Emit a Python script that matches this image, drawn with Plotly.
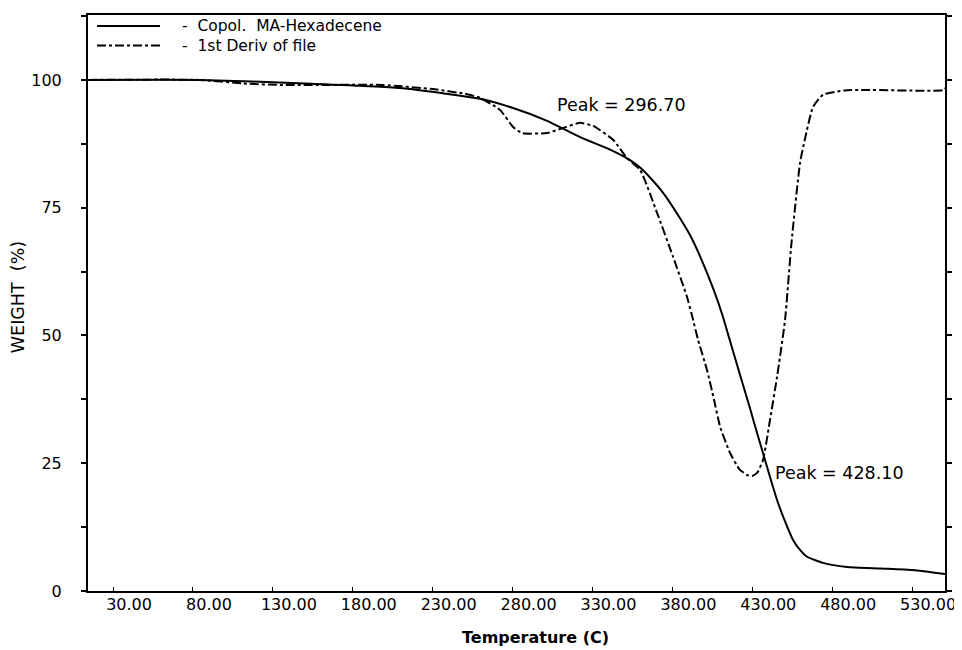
import plotly.graph_objects as go

# Weight (%) curve: solid line
weight_temp = [4.3, 74.4, 140.0, 199.6, 241.5, 249.6, 270.3, 291.6, 312.2, 330.0, 343.5,
               350.0, 356.0, 364.2, 372.0, 381.1, 388.0, 395.5, 401.1, 406.1, 412.4, 418.7,
               423.0, 426.7, 431.1, 435.5, 440.0, 445.5, 450.0, 454.3, 464.3, 479.3,
               500.0, 520.6, 540.6]
weight_pct = [100.0, 100.0, 99.3, 98.4, 96.7, 96.3, 94.5, 92.0, 88.8, 86.5, 84.3,
              82.8, 80.9, 77.9, 74.3, 69.6, 65.0, 59.2, 54.2, 48.9, 42.2, 35.6,
              30.9, 27.0, 22.3, 17.8, 14.0, 10.0, 8.0, 6.7, 5.5, 4.7,
              4.4, 4.1, 3.3]

# 1st derivative curve (scaled): dash-dot line
deriv_temp = [4.3, 74.4, 101.3, 126.4, 189.0, 220.2, 240.0, 249.6, 262.2, 270.3, 276.0,
              291.6, 301.6, 312.2, 320.4, 332.9, 341.6, 349.8, 360.4, 370.4, 379.2,
              383.0, 386.0, 391.7, 396.0, 399.9, 406.1, 412.0, 416.7, 419.9, 423.0,
              426.7, 431.1, 435.5, 440.5, 444.5, 449.9, 453.0, 458.0, 464.3, 479.3,
              539.4, 540.6]
deriv_val = [100.0, 100.0, 99.3, 99.0, 99.0, 98.2, 97.3, 96.5, 94.1, 90.8, 89.6,
             89.6, 90.6, 91.6, 91.0, 88.3, 84.7, 82.4, 74.0, 65.4, 57.5,
             53.0, 49.2, 43.2, 37.5, 32.1, 27.0, 23.8, 22.7, 22.5, 23.1,
             25.6, 33.5, 41.9, 53.0, 68.0, 83.8, 88.5, 94.7, 97.1, 98.0,
             98.0, 98.4]

x_ticks = [30, 80, 130, 180, 230, 280, 330, 380, 430, 480, 530]
x_tick_labels = ["30.00", "80.00", "130.00", "180.00", "230.00", "280.00",
                 "330.00", "380.00", "430.00", "480.00", "530.00"]
y_ticks = [0, 25, 50, 75, 100]

series_names = ["-  Copol.  MA-Hexadecene", "-  1st Deriv of file"]
peak_labels = [(296.7, 95.1, "Peak = 296.70"), (433.0, 23.1, "Peak = 428.10")]

FONT = "DejaVu Sans, Verdana, sans-serif"
DASHDOT = "9px,3px,3px,3px"

fig = go.Figure()
fig.add_trace(go.Scatter(x=weight_temp, y=weight_pct, mode="lines",
                         name=series_names[0], showlegend=False,
                         line=dict(color="black", width=2, shape="spline", smoothing=0.5)))
fig.add_trace(go.Scatter(x=deriv_temp, y=deriv_val, mode="lines",
                         name=series_names[1], showlegend=False,
                         line=dict(color="black", width=2, dash=DASHDOT,
                                   shape="spline", smoothing=0.5)))

for x, y, t in peak_labels:
    fig.add_annotation(x=x, y=y, text=t, showarrow=False, xanchor="left", yanchor="middle",
                       font=dict(family=FONT, size=17.5, color="black"))

# Manual legend (top-left, inside plot frame)
legend_rows = [(0.981, "solid"), (0.947, DASHDOT)]
for ly, dash in legend_rows:
    fig.add_shape(type="line", xref="paper", yref="paper", x0=0.0105, x1=0.084, y0=ly, y1=ly,
                  line=dict(color="black", width=2, dash=dash))
fig.add_annotation(xref="paper", yref="paper", x=0.1073, y=0.964,
                   text="<br>".join(series_names), showarrow=False, align="left",
                   xanchor="left", yanchor="middle",
                   font=dict(family=FONT, size=15.5, color="black"))

# Axis titles
fig.add_annotation(xref="paper", yref="paper", x=0.5216, y=-0.0799, text="<b>Temperature (C)</b>",
                   showarrow=False, xanchor="center", yanchor="middle",
                   font=dict(family=FONT, size=16, color="black"))
fig.add_annotation(xref="paper", yref="paper", x=-0.0817, y=0.51, text="WEIGHT  (%)",
                   showarrow=False, xanchor="center", yanchor="middle", textangle=-90,
                   font=dict(family=FONT, size=17.5, color="black"))

# The page body has an 8px default margin, so the figure is sized to fit the window.
fig.update_layout(
    width=954, height=642,
    margin=dict(l=80, r=17, t=7, b=59),
    paper_bgcolor="white", plot_bgcolor="white",
    font=dict(family=FONT, size=16, color="black"),
    showlegend=False,
)
fig.update_xaxes(
    range=[4.3, 540.6], tickvals=x_ticks, ticktext=x_tick_labels, automargin=False,
    ticks="", showgrid=False, zeroline=False,
    showline=True, linecolor="black", linewidth=2, mirror=True,
    minor=dict(tick0=20, dtick=50, ticks="inside", ticklen=4, tickcolor="black", showgrid=False),
    ticklabelstandoff=-2, tickfont=dict(size=16),
)
fig.update_yaxes(
    range=[0, 112.7], tickvals=y_ticks, automargin=False,
    ticks="outside", ticklen=5, tickcolor="black", tickwidth=1.5,
    showgrid=False, zeroline=False,
    showline=True, linecolor="black", linewidth=2, mirror="ticks",
    minor=dict(dtick=12.5, ticks="outside", ticklen=5, tickcolor="black", showgrid=False),
    ticklabelstandoff=16, tickfont=dict(size=16),
)

fig.write_html("out.html")
